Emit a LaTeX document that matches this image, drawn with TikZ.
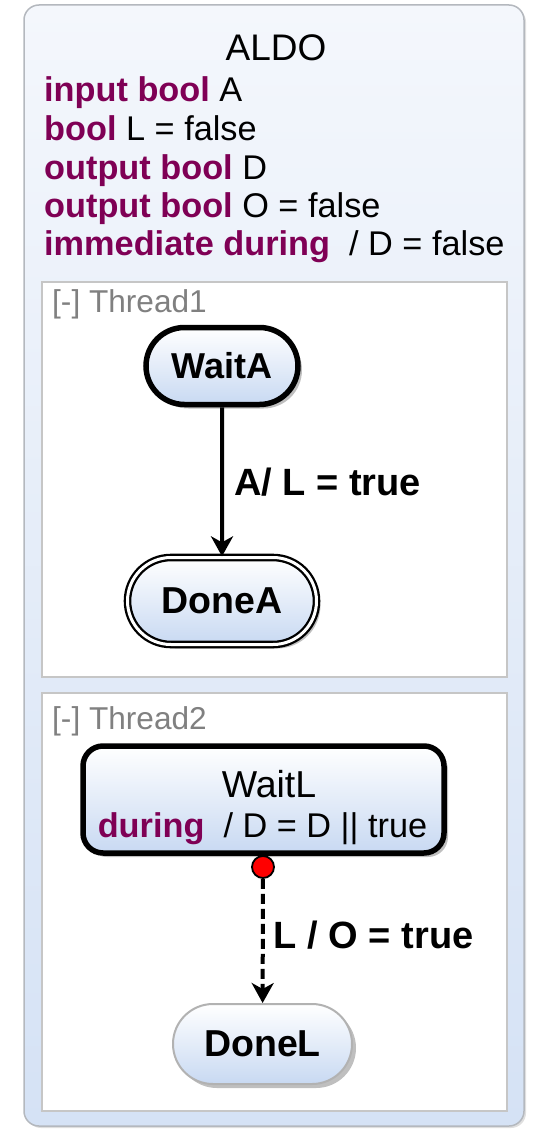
\documentclass[tikz,border=0pt]{standalone}
\usepackage{fontspec}
\setmainfont{Liberation Sans}
\usetikzlibrary{arrows.meta,shapes.misc,shadows}
\definecolor{kw}{HTML}{7F0055}
\definecolor{threadgray}{HTML}{808080}
\definecolor{boxtop}{HTML}{F4F7FC}
\definecolor{boxbot}{HTML}{D5E2F5}
\definecolor{statebot}{HTML}{C8D9F2}
\definecolor{edgegray}{HTML}{B4B8BE}
\begin{document}
\begin{tikzpicture}[x=1pt,y=-1pt,
  outerbox/.style={rectangle, rounded corners=15pt, draw=edgegray, line width=1.5pt,
    top color=boxtop, bottom color=boxbot, inner sep=0pt,
    drop shadow={shadow xshift=2pt, shadow yshift=-2pt, opacity=0.25, fill=gray}},
  threadbox/.style={rectangle, draw=gray!45, line width=1.8pt, fill=white, inner sep=0pt},
  stateshade/.style={top color=white, bottom color=statebot,
    drop shadow={shadow xshift=4pt, shadow yshift=-4pt, opacity=0.25, fill=black}},
  stadium/.style={shape=rounded rectangle, inner sep=0pt, stateshade},
  decl/.style={anchor=base west, inner sep=0pt, font=\fontsize{34.3}{40}\selectfont},
  threadlabel/.style={anchor=base west, inner sep=0pt, text=threadgray, font=\fontsize{31.6}{37}\selectfont},
  statename/.style={font=\fontsize{37.5}{42}\selectfont\bfseries},
  trans/.style={line width=4pt, -{Stealth[length=20pt,width=22pt,inset=6pt]}},
  translabel/.style={anchor=west, inner sep=0pt, font=\fontsize{38}{42}\selectfont\bfseries}
]
\useasboundingbox (0,0) rectangle (535,1129);

% outer state
\node[outerbox, minimum width=500pt, minimum height=1121pt] (aldo) at (274,565.5) {};
\node[anchor=base, inner sep=0pt, font=\fontsize{37}{42}\selectfont] (title) at (276,61) {ALDO};
\node[decl] (d1) at (44,102) {\textcolor{kw}{\bfseries input bool} A};
\node[decl] (d2) at (44,140) {\textcolor{kw}{\bfseries bool} L = false};
\node[decl] (d3) at (44,179) {\textcolor{kw}{\bfseries output bool} D};
\node[decl] (d4) at (44,217) {\textcolor{kw}{\bfseries output bool} O = false};
\node[decl] (d5) at (44,255) {\textcolor{kw}{\bfseries immediate during}\ \ / D = false};

% thread 1
\node[threadbox, minimum width=465pt, minimum height=395pt] (t1) at (274.5,479.5) {};
\node[threadlabel] (t1l) at (52,312) {[-] Thread1};
\node[stadium, draw=black, line width=5.5pt, minimum width=152pt, minimum height=77pt, font=\fontsize{36}{42}\selectfont\bfseries] (waitA) at (222,366) {WaitA};
\node[stadium, draw=black, line width=2.3pt, double=white, double distance=3pt,
      minimum width=189pt, minimum height=87pt, statename] (doneA) at (222,601) {DoneA};
\draw[trans] (waitA) -- (doneA) node[midway, translabel, xshift=10pt] (lab1) {A/ L = true};

% thread 2
\node[threadbox, minimum width=465pt, minimum height=418pt] (t2) at (274.5,902) {};
\node[threadlabel] (t2l) at (52,729) {[-] Thread2};
\node[rectangle, rounded corners=20pt, draw=black, line width=5.5pt, stateshade,
      minimum width=361pt, minimum height=107pt, inner sep=0pt] (waitL) at (263.5,799.5) {};
\node[anchor=base, inner sep=0pt, font=\fontsize{37.5}{42}\selectfont] (waitLname) at (269,797) {WaitL};
\node[anchor=base, inner sep=0pt, font=\fontsize{34.3}{40}\selectfont] (waitLact) at (262.5,837) {\textcolor{kw}{\bfseries during}\ \ / D = D || true};
\node[circle, draw=black, line width=1.8pt, fill=red, minimum size=22pt, inner sep=0pt] (dot) at (263,867) {};
\node[stadium, draw=gray!60, line width=2pt, minimum width=179pt, minimum height=80pt, statename] (doneL) at (262.5,1044) {DoneL};
\draw[trans, dash pattern=on 10pt off 5pt] (dot) -- (doneL) node[pos=0.45, translabel, xshift=9pt] (lab2) {L / O = true};
\end{tikzpicture}
\end{document}
